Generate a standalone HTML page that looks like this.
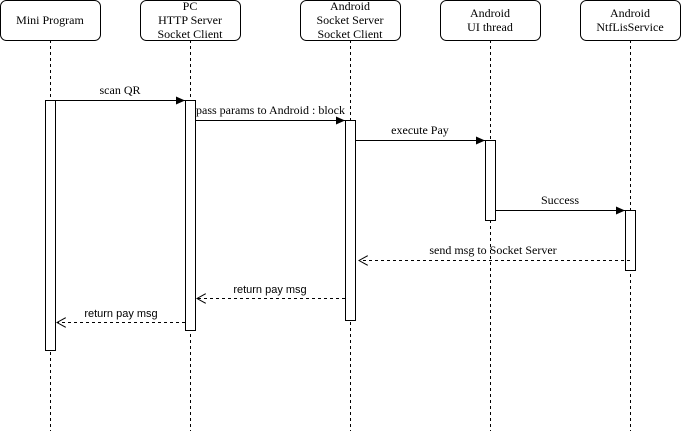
<!DOCTYPE html>
<html><head><style>body{margin:0;background:#fff}</style></head><body>
<svg width="681" height="431" xmlns="http://www.w3.org/2000/svg" style="display:block">
<defs>
<marker id="f" markerWidth="10" markerHeight="8" refX="9" refY="4" orient="auto" markerUnits="userSpaceOnUse"><path d="M0,0 L9,4 L0,8 Z" fill="#000"/></marker>
<marker id="o" markerWidth="10" markerHeight="10" refX="9" refY="5" orient="auto" markerUnits="userSpaceOnUse"><path d="M0,0 L9,5 L0,10" fill="none" stroke="#000"/></marker>
</defs>
<g stroke="#000" stroke-dasharray="3,3" fill="none">
<line x1="50.5" y1="40" x2="50.5" y2="431"/>
<line x1="190.5" y1="40" x2="190.5" y2="431"/>
<line x1="350.5" y1="40" x2="350.5" y2="431"/>
<line x1="490.5" y1="40" x2="490.5" y2="431"/>
<line x1="630.5" y1="40" x2="630.5" y2="431"/>
</g>
<g stroke="#000" fill="#fff">
<rect x="0.5" y="0.5" width="100" height="40" rx="6"/>
<rect x="140.5" y="0.5" width="100" height="40" rx="6"/>
<rect x="300.5" y="0.5" width="100" height="40" rx="6"/>
<rect x="440.5" y="0.5" width="100" height="40" rx="6"/>
<rect x="580.5" y="0.5" width="100" height="40" rx="6"/>
<rect x="45.5" y="100.5" width="10" height="250"/>
<rect x="185.5" y="100.5" width="10" height="230"/>
<rect x="345.5" y="120.5" width="10" height="200"/>
<rect x="485.5" y="140.5" width="10" height="80"/>
<rect x="625.5" y="210.5" width="10" height="60"/>
</g>
<g font-family="Liberation Serif, serif" font-size="12" text-anchor="middle" fill="#000">
<text x="50" y="24">Mini Program</text>
<text x="190" y="10">PC</text><text x="190" y="24">HTTP Server</text><text x="190" y="38">Socket Client</text>
<text x="350" y="10">Android</text><text x="350" y="24">Socket Server</text><text x="350" y="38">Socket Client</text>
<text x="490" y="17">Android</text><text x="490" y="31">UI thread</text>
<text x="630" y="17">Android</text><text x="630" y="31">NtfLisService</text>
<text x="120" y="94">scan QR</text>
<text x="196" y="114" text-anchor="start">pass params to Android : block</text>
<text x="420" y="134">execute Pay</text>
<text x="560" y="204">Success</text>
<text x="493" y="254">send msg to Socket Server</text>
</g>
<g font-family="Liberation Sans, sans-serif" font-size="11" text-anchor="middle" fill="#000">
<text x="270" y="293">return pay msg</text>
<text x="121" y="317">return pay msg</text>
</g>
<g stroke="#000" fill="none">
<line x1="55" y1="100.5" x2="185" y2="100.5" marker-end="url(#f)"/>
<line x1="195" y1="120.5" x2="345" y2="120.5" marker-end="url(#f)"/>
<line x1="355" y1="140.5" x2="485" y2="140.5" marker-end="url(#f)"/>
<line x1="495" y1="210.5" x2="625" y2="210.5" marker-end="url(#f)"/>
<g stroke-dasharray="3,3">
<line x1="630" y1="260.5" x2="359" y2="260.5" marker-end="url(#o)"/>
<line x1="345" y1="298.5" x2="197" y2="298.5" marker-end="url(#o)"/>
<line x1="185" y1="322.5" x2="57" y2="322.5" marker-end="url(#o)"/>
</g>
</g>
</svg>
</body></html>
